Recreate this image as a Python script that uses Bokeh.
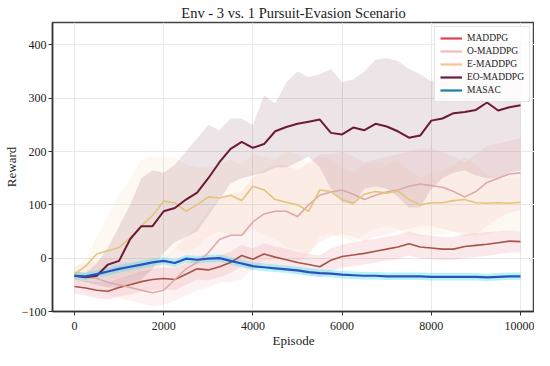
import numpy as np
from bokeh.plotting import figure
from bokeh.models import Range1d, FixedTicker, Legend, LegendItem
from bokeh.embed import file_html
from bokeh.resources import INLINE

episodes = np.arange(0, 10001, 250)

maddpg = [-53, -56, -60, -62, -55, -50, -44, -40, -38, -40, -30, -20, -22, -16, -8, 5, -2, 8, 2, -3,
          -8, -12, -16, -4, 3, 6, 9, 13, 17, 21, 27, 21, 19, 17, 17, 22, 24, 26, 29, 32, 31]
maddpg_up = [-40, -42, -44, -45, -38, -32, -25, -20, -18, -18, -10, 0, 0, 5, 12, 25, 18, 28, 22, 18,
             12, 8, 5, 18, 25, 30, 33, 36, 40, 44, 50, 44, 42, 40, 40, 45, 47, 49, 50, 52, 52]
maddpg_lo = [-66, -70, -75, -78, -72, -68, -62, -60, -58, -60, -50, -40, -42, -36, -28, -15, -22, -12, -18, -24,
             -28, -32, -36, -24, -18, -14, -12, -8, -5, -2, 5, 0, -2, -4, -4, 0, 2, 4, 8, 10, 10]

o_maddpg = [-33, -35, -38, -45, -50, -55, -60, -65, -60, -40, -20, -8, 10, 35, 43, 43, 68, 83, 88, 88,
            78, 100, 118, 124, 128, 120, 110, 118, 124, 128, 135, 139, 136, 133, 125, 115, 125, 142, 150, 158, 160]
o_up = [-15, -10, -5, 0, -5, -10, -10, -10, 0, 20, 40, 60, 90, 110, 120, 125, 150, 165, 175, 175,
        165, 180, 195, 195, 200, 190, 180, 185, 190, 195, 200, 205, 205, 200, 190, 180, 195, 210, 215, 220, 225]
o_lo = [-50, -55, -60, -68, -75, -80, -85, -90, -88, -80, -70, -60, -55, -45, -45, -40, -20, -5, 0, 0,
        -10, 10, 30, 40, 45, 40, 30, 40, 45, 50, 55, 60, 60, 55, 50, 40, 45, 60, 75, 85, 90]

e_maddpg = [-30, -15, 8, 14, 20, 38, 60, 80, 107, 104, 88, 100, 115, 113, 118, 108, 135, 128, 110, 105,
            100, 88, 128, 125, 110, 103, 120, 125, 122, 126, 110, 100, 104, 104, 108, 110, 104, 103, 104, 103, 105]
e_up = [-20, 0, 40, 80, 120, 150, 185, 190, 190, 190, 175, 170, 170, 175, 185, 175, 195, 190, 185, 200,
        195, 175, 190, 185, 170, 160, 175, 180, 175, 185, 165, 150, 160, 165, 175, 190, 175, 155, 150, 150, 150]
e_lo = [-40, -35, -30, -35, -40, -35, -30, -25, 0, 20, 10, 20, 40, 50, 45, 40, 55, 45, 35, 20,
        15, 5, 40, 45, 40, 30, 45, 55, 60, 55, 45, 40, 45, 45, 50, 50, 40, 45, 50, 50, 55]

eo_maddpg = [-33, -36, -33, -12, -5, 36, 60, 60, 88, 94, 110, 123, 150, 180, 205, 218, 207, 214, 238, 246,
             252, 256, 260, 235, 232, 245, 240, 252, 247, 238, 226, 230, 258, 262, 272, 274, 278, 292, 277, 283, 287]
eo_up = [-25, -28, -10, 20, 60, 100, 150, 165, 160, 175, 200, 225, 250, 240, 262, 262, 250, 305, 290, 330,
         350, 340, 345, 355, 330, 335, 350, 372, 375, 370, 355, 345, 332, 340, 368, 380, 395, 405, 400, 405, 405]
eo_lo = [-40, -45, -50, -55, -55, -50, -40, -20, 10, 30, 40, 50, 80, 110, 140, 150, 155, 160, 170, 170,
         180, 190, 170, 130, 105, 100, 130, 135, 130, 115, 95, 95, 130, 150, 160, 165, 155, 150, 150, 160, 165]

masac = [-33, -34, -30, -25, -20, -16, -12, -8, -5, -9, -1, -3, -1, 0, -5, -10, -15, -17, -19, -21,
         -23, -26, -28, -29, -31, -32, -33, -33, -34, -34, -34, -34, -35, -35, -35, -35, -35, -36, -35, -34, -34]
masac_half = 7

names = ["MADDPG", "O-MADDPG", "E-MADDPG", "EO-MADDPG", "MASAC"]
legend_colors = ["#e0404f", "#f6b9b9", "#f7c38f", "#6b1d3a", "#1a7fa6"]
line_colors = ["#a4554a", "#dcaaa8", "#e2c57a", "#6a1a35", "#2f4fbf"]

X0, X1, Y0, Y1 = -493, 10314, -100, 442

p = figure(width=534, height=350, output_backend="svg", toolbar_location=None,
           x_range=Range1d(X0, X1), y_range=Range1d(Y0, Y1))
p.title.text = "Env - 3 vs. 1 Pursuit-Evasion Scenario"
p.title.align = "center"
p.title.text_font = "Liberation Serif"
p.title.text_font_size = "14.5px"
p.title.text_font_style = "normal"
p.title.text_color = "#222222"
p.title.text_line_height = 0.9
p.title.standoff = 4
p.min_border = 0
p.min_border_left = 44
p.min_border_right = 0
p.min_border_bottom = 29
p.min_border_top = 15
p.background_fill_color = "white"
p.border_fill_color = "white"
p.outline_line_color = "#444444"
p.outline_line_width = 1.5

# bands
p.varea(x=episodes, y1=maddpg_lo, y2=maddpg_up, fill_color="#e04050", fill_alpha=0.12)
p.varea(x=episodes, y1=o_lo, y2=o_up, fill_color="#f4a8a8", fill_alpha=0.15)
p.varea(x=episodes, y1=e_lo, y2=e_up, fill_color="#f5c08a", fill_alpha=0.11)
p.varea(x=episodes, y1=eo_lo, y2=eo_up, fill_color="#6b1d3a", fill_alpha=0.12)
masac_arr = np.array(masac, dtype=float)
p.varea(x=episodes, y1=masac_arr - masac_half, y2=masac_arr + masac_half, fill_color="#40e6f0", fill_alpha=0.4)

# lines
series = [maddpg, o_maddpg, e_maddpg, eo_maddpg, masac]
widths = [1.6, 1.6, 1.6, 2.0, 2.2]
for s, c, w in zip(series, line_colors, widths):
    p.line(episodes, s, line_color=c, line_width=w, line_join="round")

# legend entries (drawn outside the visible range)
items = []
for n, c in zip(names, legend_colors):
    r = p.line([-5000, -4000], [-1000, -1000], line_color=c, line_width=2.2)
    items.append(LegendItem(label=n, renderers=[r]))
legend = Legend(items=items, location="top_right")
legend.label_text_font = "Liberation Serif"
legend.label_text_font_size = "9.5px"
legend.label_text_color = "#222222"
legend.glyph_width = 22
legend.glyph_height = 12
legend.label_height = 12
legend.spacing = 1
legend.padding = 5
legend.margin = 4
legend.border_line_color = "#cccccc"
legend.border_line_width = 1
legend.background_fill_alpha = 0.85
p.add_layout(legend)

# axes
for ax in (p.xaxis[0], p.yaxis[0]):
    ax.axis_line_color = "#333333"
    ax.axis_line_width = 1.5
    ax.major_tick_line_color = "#333333"
    ax.major_tick_out = 4
    ax.major_tick_in = 0
    ax.minor_tick_line_color = None
    ax.major_label_text_font = "Liberation Serif"
    ax.major_label_text_font_size = "12px"
    ax.major_label_text_color = "#222222"
    ax.major_label_text_line_height = 1.0
    ax.axis_label_text_font = "Liberation Serif"
    ax.axis_label_text_font_size = "13px"
    ax.axis_label_text_font_style = "normal"
    ax.axis_label_text_color = "#222222"
    ax.axis_label_text_line_height = 1.0

p.xaxis.axis_label = "Episode"
p.yaxis.axis_label = "Reward"
p.xaxis.ticker = FixedTicker(ticks=[0, 2000, 4000, 6000, 8000, 10000])
p.yaxis.ticker = FixedTicker(ticks=[-100, 0, 100, 200, 300, 400])
p.yaxis.axis_label_standoff = 0
p.yaxis.major_label_standoff = 2
p.xaxis.major_label_standoff = 6
p.xaxis.axis_label_standoff = 0
p.xgrid.grid_line_color = "#e8e8e8"
p.ygrid.grid_line_color = "#e8e8e8"
p.xgrid.ticker = p.xaxis.ticker
p.ygrid.ticker = p.yaxis.ticker

open("out.html", "w").write(file_html(p, INLINE))
